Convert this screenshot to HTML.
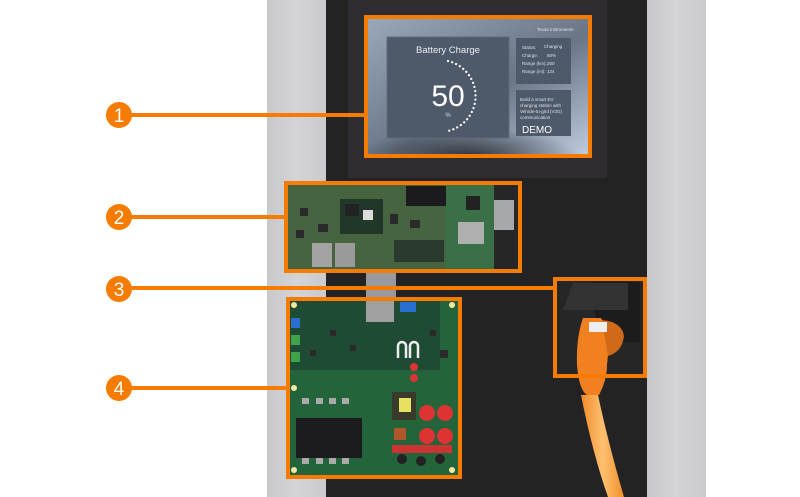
<!DOCTYPE html>
<html><head><meta charset="utf-8"><style>
html,body{margin:0;padding:0;background:#fff;}
svg{display:block;font-family:"Liberation Sans",sans-serif;}
</style></head><body>
<svg width="800" height="497" viewBox="0 0 800 497" xmlns="http://www.w3.org/2000/svg">
<defs>
<linearGradient id="scr" x1="0" y1="0" x2="1" y2="1">
<stop offset="0" stop-color="#9aa8bb"/><stop offset="0.55" stop-color="#6a7686"/><stop offset="1" stop-color="#bfcde0"/>
</linearGradient>
<radialGradient id="sh" cx="0.45" cy="1" r="0.5">
<stop offset="0" stop-color="#1a1d24" stop-opacity="0.8"/><stop offset="1" stop-color="#1a1d24" stop-opacity="0"/>
</radialGradient>
<linearGradient id="gp" x1="0" y1="0" x2="1" y2="0">
<stop offset="0" stop-color="#c8c8ca"/><stop offset="0.5" stop-color="#d4d4d6"/><stop offset="1" stop-color="#cbcbcd"/>
</linearGradient>
<linearGradient id="cab" x1="0" y1="0" x2="1" y2="0">
<stop offset="0" stop-color="#f08a2a"/><stop offset="0.5" stop-color="#ffc070"/><stop offset="1" stop-color="#f0902e"/>
</linearGradient>
</defs>
<rect width="800" height="497" fill="#fff"/>
<rect x="267" y="0" width="59" height="497" fill="url(#gp)"/>
<rect x="647" y="0" width="59" height="497" fill="url(#gp)"/>
<rect x="326" y="0" width="321" height="497" fill="#232323"/>
<rect x="348" y="0" width="259" height="178" fill="#2f2d31"/>
<rect x="367" y="18" width="224" height="138" fill="url(#scr)"/>
<rect x="367" y="100" width="224" height="56" fill="url(#sh)"/>
<rect x="387" y="37" width="122" height="101" fill="#4e5969" stroke="#5f6a7a"/>
<text x="448" y="53" font-size="9.5" fill="#e8eef5" text-anchor="middle">Battery Charge</text>
<text x="448" y="106" font-size="30" fill="#fff" text-anchor="middle">50</text>
<text x="448" y="117" font-size="6" fill="#dde" text-anchor="middle">%</text>
<path d="M448 61 A36 36 0 0 1 448 131" fill="none" stroke="#fff" stroke-width="2.2" stroke-dasharray="0.1 4.2" stroke-linecap="round"/>
<rect x="516" y="38" width="55" height="46" fill="#4e5969"/>
<g font-size="4.5" fill="#dde3ea"><text x="522" y="49">Status:</text><text x="544" y="48">Charging</text>
<text x="522" y="57">Charge:</text><text x="547" y="57">50%</text>
<text x="522" y="65">Range (km):</text><text x="547" y="65">200</text>
<text x="522" y="73">Range (mi):</text><text x="547" y="73">124</text>
<text x="537" y="31">Texas Instruments</text></g>
<rect x="516" y="90" width="55" height="46" fill="#4e5969"/>
<g font-size="4.5" fill="#dde3ea"><text x="520" y="101">Build a smart EV</text><text x="520" y="107">charging station with</text><text x="520" y="113">Vehicle-to-grid (V2G)</text><text x="520" y="119">communication</text></g>
<text x="522" y="133" font-size="10" fill="#fff">DEMO</text>
<rect x="366" y="17" width="224" height="139" fill="none" stroke="#f57c00" stroke-width="4"/>
<!-- board 2 -->
<rect x="366" y="268" width="30" height="55" fill="#9a9a9e"/>
<rect x="286" y="183" width="234" height="87" fill="#262626"/>
<rect x="286" y="183" width="165" height="87" fill="#46643f"/>
<rect x="446" y="185" width="48" height="84" fill="#3a7048"/>
<rect x="494" y="200" width="20" height="30" fill="#a6a8ac"/>
<rect x="406" y="186" width="40" height="20" fill="#1b1b1d"/>
<rect x="340" y="199" width="43" height="35" fill="#22362a"/>
<rect x="345" y="204" width="14" height="12" fill="#222"/><rect x="363" y="210" width="10" height="10" fill="#ddd"/>
<rect x="312" y="243" width="20" height="24" fill="#a3a3a3"/><rect x="335" y="243" width="20" height="24" fill="#9a9a9a"/>
<rect x="458" y="222" width="26" height="22" fill="#b0b0b0"/>
<rect x="466" y="196" width="14" height="14" fill="#222"/>
<rect x="394" y="240" width="50" height="22" fill="#2a3a2e"/>
<g fill="#2a2a2a"><rect x="300" y="208" width="8" height="8"/><rect x="318" y="224" width="10" height="8"/><rect x="390" y="214" width="8" height="10"/><rect x="410" y="220" width="10" height="8"/><rect x="296" y="230" width="8" height="8"/></g>
<rect x="286" y="183" width="234" height="88" fill="none" stroke="#f57c00" stroke-width="4"/>
<!-- board 4 -->
<rect x="288" y="299" width="172" height="177" fill="#24643a"/>
<rect x="290" y="300" width="150" height="70" fill="#1f4a33"/>
<rect x="366" y="298" width="28" height="24" fill="#a0a0a0"/>
<rect x="400" y="302" width="16" height="10" fill="#2a6fd0"/>
<rect x="291" y="318" width="9" height="10" fill="#2a6fd0"/>
<rect x="291" y="335" width="9" height="10" fill="#3ea34a"/><rect x="291" y="352" width="9" height="10" fill="#3ea34a"/>
<rect x="296" y="418" width="66" height="40" fill="#1c1c1e"/>
<rect x="392" y="392" width="24" height="28" fill="#3a3a2a"/><rect x="399" y="398" width="12" height="14" fill="#e8e060"/>
<circle cx="427" cy="413" r="8" fill="#d33"/><circle cx="445" cy="413" r="8" fill="#d33"/>
<circle cx="427" cy="436" r="8" fill="#d33"/><circle cx="445" cy="436" r="8" fill="#d33"/>
<rect x="392" y="445" width="60" height="8" fill="#c33"/>
<rect x="394" y="428" width="12" height="12" fill="#b0552a"/>
<circle cx="402" cy="459" r="5" fill="#222"/><circle cx="421" cy="461" r="5" fill="#222"/><circle cx="440" cy="459" r="5" fill="#222"/>
<path d="M398 358 v-12 a4 4 0 0 1 8 0 v12 M410 358 v-12 a4 4 0 0 1 8 0 v12" fill="none" stroke="#eee" stroke-width="2.5"/>
<circle cx="414" cy="367" r="4" fill="#d33"/><circle cx="414" cy="378" r="4" fill="#d33"/>
<g fill="#2a2a2a"><rect x="330" y="330" width="6" height="6"/><rect x="350" y="345" width="6" height="6"/><rect x="310" y="350" width="6" height="6"/><rect x="440" y="350" width="8" height="8"/><rect x="430" y="330" width="6" height="6"/></g>
<g fill="#aaa"><rect x="302" y="398" width="7" height="6"/><rect x="316" y="398" width="7" height="6"/><rect x="329" y="398" width="7" height="6"/><rect x="342" y="398" width="7" height="6"/>
<rect x="302" y="458" width="7" height="6"/><rect x="316" y="458" width="7" height="6"/><rect x="329" y="458" width="7" height="6"/><rect x="342" y="458" width="7" height="6"/></g>
<g fill="#f4e8a0"><circle cx="294" cy="305" r="3"/><circle cx="452" cy="305" r="3"/><circle cx="294" cy="388" r="3"/><circle cx="294" cy="470" r="3"/><circle cx="452" cy="470" r="3"/></g>
<rect x="288" y="299" width="172" height="178" fill="none" stroke="#f57c00" stroke-width="4"/>
<!-- plug -->
<rect x="557" y="281" width="86" height="94" fill="#262626"/>
<path d="M590 282 h50 v60 h-40 z" fill="#1c1c1c"/>
<path d="M563 310 l10 -27 h55 v27 z" fill="#333"/>
<path d="M583 318 q-7 20 -6 47 q2 25 10 30 h12 q8 -15 8 -30 q4 -30 -6 -47 z" fill="#f08020"/>
<path d="M602 320 q20 2 22 16 q-2 16 -16 20" fill="#d06a18"/>
<rect x="589" y="322" width="18" height="10" fill="#eee"/>
<path d="M581 395 q12 60 27 102 h16 q-16 -55 -26 -102 z" fill="url(#cab)"/>
<rect x="555" y="279" width="90" height="97" fill="none" stroke="#f57c00" stroke-width="4"/>
<g stroke="#f57c00" stroke-width="4">
<line x1="119" y1="115" x2="366" y2="115"/>
<line x1="119" y1="217" x2="286" y2="217"/>
<line x1="119" y1="288" x2="555" y2="288"/>
<line x1="119" y1="388" x2="288" y2="388"/>
</g>
<g fill="#f57c00"><circle cx="119" cy="115" r="13"/><circle cx="119" cy="217" r="13"/><circle cx="119" cy="289" r="13"/><circle cx="119" cy="388" r="13"/></g>
<g fill="#fff" font-size="19" text-anchor="middle"><text x="119" y="122">1</text><text x="119" y="224">2</text><text x="119" y="296">3</text><text x="119" y="395">4</text></g>
</svg>
</body></html>
